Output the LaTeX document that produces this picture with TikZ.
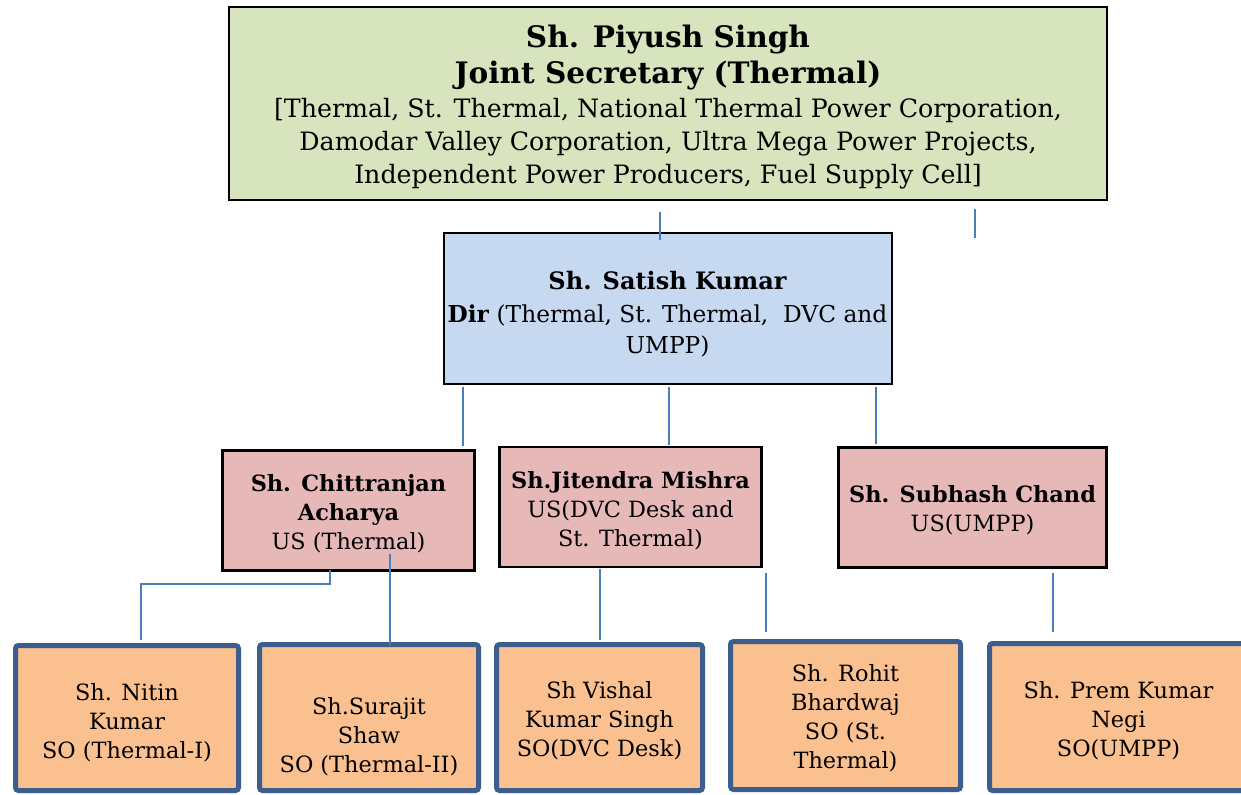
\documentclass[tikz,border=0pt]{standalone}
\usepackage{fontspec}
\setmainfont{DejaVu Serif}
\usetikzlibrary{calc}
\definecolor{jsfill}{HTML}{D7E4BD}
\definecolor{dirfill}{HTML}{C6D9F1}
\definecolor{usfill}{HTML}{E6B9B8}
\definecolor{sofill}{HTML}{FAC090}
\definecolor{soborder}{HTML}{3B5E8C}
\definecolor{conncol}{HTML}{4A7EBB}
\newcommand{\topsp}[1]{\rule{0pt}{#1}}
\begin{document}
\begin{tikzpicture}[x=0.5pt,y=-0.5pt,
  box/.style={draw=black, align=center, inner sep=2pt},
  jsbox/.style={box, fill=jsfill, line width=1.3pt, minimum width=439pt, minimum height=96.5pt,
    font=\fontsize{12.65}{16.5}\selectfont},
  dirbox/.style={box, fill=dirfill, line width=1pt, minimum width=224pt, minimum height=75.5pt,
    font=\fontsize{11.65}{15.5}\selectfont},
  usbox/.style={box, fill=usfill, line width=1.2pt, minimum height=60pt,
    font=\fontsize{11.2}{14.5}\selectfont},
  sobox/.style={draw=soborder, fill=sofill, line width=2.5pt, rounded corners=1.5pt, align=center,
    inner sep=2pt, font=\fontsize{11.2}{14.5}\selectfont},
  conn/.style={draw=conncol, line width=1pt}
]
\useasboundingbox (0,0) rectangle (1241,795);
\fill[white] (0,0) rectangle (1241,795);

% top
\node[jsbox] (js) at (668,103.5) {\topsp{15pt}{\fontsize{14.8}{18}\selectfont\bfseries Sh. Piyush Singh}\\[1.5pt]
  {\fontsize{14.8}{18}\selectfont\bfseries Joint Secretary (Thermal)}\\[0.5pt]
  [Thermal, St. Thermal, National Thermal Power Corporation,\\
  Damodar Valley Corporation, Ultra Mega Power Projects,\\
  Independent Power Producers, Fuel Supply Cell]};

% director
\node[dirbox] (dir) at (667.5,309) {\topsp{14pt}{\fontsize{12}{15.5}\selectfont\bfseries Sh. Satish Kumar}\\[1pt]
  \textbf{Dir} (Thermal, St. Thermal,\ \ DVC and\\ UMPP)};

% under secretaries
\node[usbox, minimum width=126pt] (chit) at (348.5,510.5) {\topsp{11.5pt}\textbf{Sh. Chittranjan}\\ \textbf{Acharya}\\ US (Thermal)};
\node[usbox, minimum width=131pt] (jit) at (630.5,507) {\topsp{12.5pt}\textbf{Sh.Jitendra Mishra}\\ US(DVC Desk and\\ St. Thermal)};
\node[usbox, minimum width=134pt] (sub) at (972.5,507.5) {\topsp{11.5pt}\textbf{Sh. Subhash Chand}\\ US(UMPP)};

% section officers
\node[sobox, minimum width=111.5pt, minimum height=72.5pt] (nitin) at (127,718) {\topsp{13.5pt}Sh. Nitin\\ Kumar\\ SO (Thermal-I)};
\node[sobox, minimum width=109.5pt, minimum height=73pt] (surajit) at (369,717.5) {\topsp{27.5pt}Sh.Surajit\\ Shaw\\ SO (Thermal-II)};
\node[sobox, minimum width=103pt, minimum height=73pt] (vishal) at (599.5,717.5) {\topsp{11.5pt}Sh Vishal\\ Kumar Singh\\ SO(DVC Desk)};
\node[sobox, minimum width=115pt, minimum height=74pt] (rohit) at (845.5,715.5) {\topsp{11.5pt}Sh. Rohit\\ Bhardwaj\\ SO (St.\\ Thermal)};
\node[sobox, minimum width=129pt, minimum height=73.5pt] (prem) at (1118.5,717) {\topsp{12.5pt}Sh. Prem Kumar\\ Negi\\ SO(UMPP)};

% connectors
\draw[conn] ($(js.south)+(-8,11)$) -- ($(dir.north)+(-7.5,8)$);
\draw[conn] ($(js.south)+(307,8)$) -- ($(js.south)+(307,37)$);
\draw[conn] ($(dir.south)+(-204.5,2)$) -- ($(chit.north)+(114.5,-3)$);
\draw[conn] ($(dir.south)+(1.5,2)$) -- ($(jit.north)+(38.5,-1)$);
\draw[conn] ($(dir.south)+(208.5,2)$) -- ($(sub.north)+(-96.5,-2)$);
\draw[conn] ($(chit.south)+(-18.5,-2)$) -- ++(0,14) -| ($(nitin.north)+(14,-3)$);
\draw[conn] ($(chit.south)+(41.5,-18)$) -- ($(surajit.north)+(21,4)$);
\draw[conn] ($(jit.south)+(-30.5,1)$) -- ($(vishal.north)+(0.5,-2)$);
\draw[conn] ($(jit.south)+(135.5,5)$) -- ($(rohit.north)+(-79.5,-7)$);
\draw[conn] ($(sub.south)+(80.5,4)$) -- ($(prem.north)+(-65.5,-9)$);
\end{tikzpicture}
\end{document}
